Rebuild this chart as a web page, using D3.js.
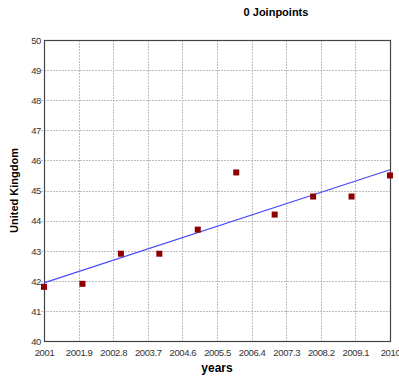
<!DOCTYPE html>
<html><head><meta charset="utf-8">
<script src="https://cdn.jsdelivr.net/npm/d3@7"></script>
<style>body{margin:0;background:#fff}svg{display:block}</style>
</head><body>
<svg id="c" width="399" height="381"></svg>
<script>
const years = [2001,2002,2003,2004,2005,2006,2007,2008,2009,2010];
const values = [41.8,41.9,42.9,42.9,43.7,45.6,44.2,44.8,44.8,45.5];
const fitYears = [2001,2010];
const fitValues = [41.93,45.69];
const xTicks = [2001,2001.9,2002.8,2003.7,2004.6,2005.5,2006.4,2007.3,2008.2,2009.1,2010];
const yTicks = [40,41,42,43,44,45,46,47,48,49,50];

const svg = d3.select("#c");
const L=44,R=390,T=40,B=341;
const x = d3.scaleLinear().domain([2001,2010]).range([L,R]);
const y = d3.scaleLinear().domain([40,50]).range([B,T]);
const tickFont = "'Liberation Sans', Arial, sans-serif";
const boldFont = "'Liberation Sans', Arial, sans-serif";

// grid
svg.append("g").selectAll("line").data(xTicks.slice(1,-1)).join("line")
 .attr("x1",d=>Math.round(x(d))+0.5).attr("x2",d=>Math.round(x(d))+0.5).attr("y1",T).attr("y2",B)
 .attr("stroke","#bdbdbd").attr("stroke-dasharray","2,1").attr("stroke-width",1);
svg.append("g").selectAll("line").data(yTicks.slice(1,-1)).join("line")
 .attr("x1",L-3).attr("x2",R).attr("y1",d=>Math.round(y(d))+0.5).attr("y2",d=>Math.round(y(d))+0.5)
 .attr("stroke","#bdbdbd").attr("stroke-dasharray","2,1").attr("stroke-width",1);

// axes
const ya = svg.append("g").attr("transform",`translate(${L},0)`).call(d3.axisLeft(y).tickValues(yTicks).tickFormat(d3.format("d")).tickSize(0));
const xa = svg.append("g").attr("transform",`translate(0,${B})`).call(d3.axisBottom(x).tickValues(xTicks).tickFormat(d=>String(+d.toFixed(1))).tickSize(0));
[ya,xa].forEach(a=>{a.select(".domain").remove();a.selectAll("line").remove();
  a.selectAll("text").attr("font-family",tickFont).attr("font-size",9.5).attr("letter-spacing","-0.4px").attr("fill","#333");});
xa.selectAll("text").attr("y",8).attr("dy","0.71em");
ya.selectAll("text").attr("x",-3).attr("dy","0.35em");

// frame
svg.append("rect").attr("x",L+0.5).attr("y",T+0.5).attr("width",R-L).attr("height",B-T)
 .attr("fill","none").attr("stroke","#444").attr("stroke-width",1.2);

// fit line
const fit = fitYears.map((d,i)=>[d,fitValues[i]]);
svg.append("path").datum(fit).attr("d",d3.line().x(d=>x(d[0])).y(d=>y(d[1])))
 .attr("stroke","#4a4aff").attr("stroke-width",1.2).attr("fill","none");

// points
svg.append("g").selectAll("rect").data(years).join("rect")
 .attr("x",(d)=>x(d)-3).attr("y",(d,i)=>y(values[i])-3).attr("width",6).attr("height",6)
 .attr("fill","#8b0000");

// titles
svg.append("text").attr("x",276).attr("y",16).attr("text-anchor","middle")
 .attr("font-family",boldFont).attr("font-weight","bold").attr("font-size",11).text("0 Joinpoints");
svg.append("text").attr("x",(L+R)/2).attr("y",372).attr("text-anchor","middle")
 .attr("font-family",boldFont).attr("font-weight","bold").attr("font-size",12).text("years");
svg.append("text").attr("transform",`translate(17.5,${(T+B)/2}) rotate(-90)`).attr("text-anchor","middle")
 .attr("font-family",boldFont).attr("font-weight","bold").attr("font-size",11).text("United Kingdom");
</script>
</body></html>
